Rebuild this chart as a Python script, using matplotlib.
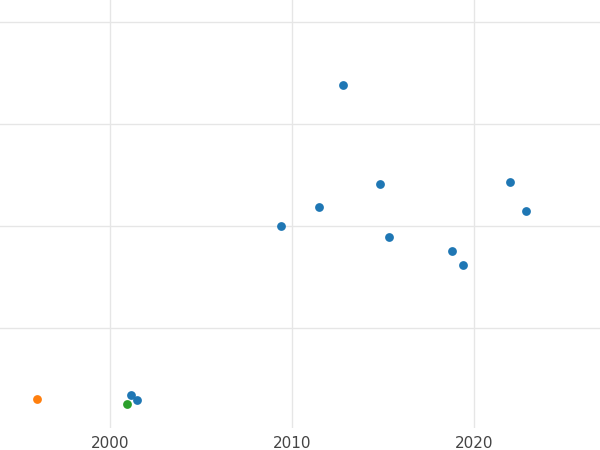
import matplotlib
matplotlib.use("Agg")
import matplotlib.pyplot as plt

years_blue = [2001.15, 2001.48, 2009.4, 2011.48, 2012.8, 2014.84, 2015.33, 2018.79, 2019.4, 2021.98, 2022.86]
vals_blue = [0.34, 0.29, 2.0, 2.19, 3.38, 2.41, 1.89, 1.75, 1.62, 2.43, 2.15]
years_orange = [1996.0]
vals_orange = [0.30]
years_green = [2000.93]
vals_green = [0.25]
xticks = [2000, 2010, 2020]

fig = plt.figure(figsize=(6, 4.5), dpi=100)
ax = fig.add_axes([0, 0.05, 1, 0.95])
ax.scatter(years_blue, vals_blue, s=40, color="#1f77b4", zorder=3, linewidths=0)
ax.scatter(years_orange, vals_orange, s=40, color="#ff7f0e", zorder=3, linewidths=0)
ax.scatter(years_green, vals_green, s=40, color="#2ca02c", zorder=3, linewidths=0)
ax.set_xlim(1993.96, 2026.92)
ax.set_ylim(0.02, 4.218)
ax.set_xticks(xticks)
ax.set_yticks([1, 2, 3, 4])
ax.set_yticklabels([])
ax.grid(True, color="#e6e6e6", linewidth=1)
ax.set_axisbelow(True)
for s in ax.spines.values():
    s.set_visible(False)
ax.tick_params(length=0, labelsize=11, labelcolor="#444444", pad=6)
fig.savefig("out.png", dpi=100)
